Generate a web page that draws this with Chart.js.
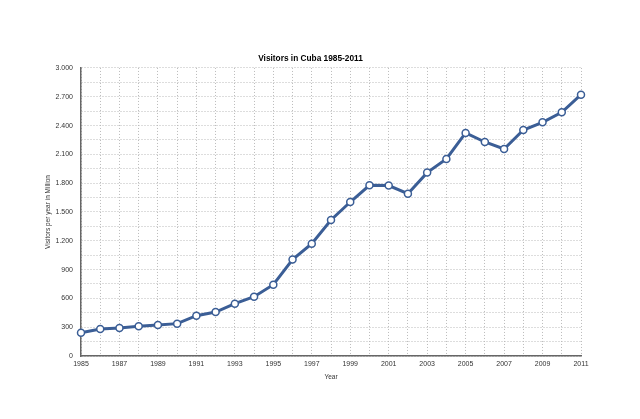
<!DOCTYPE html>
<html>
<head>
<meta charset="utf-8">
<script src="https://cdn.jsdelivr.net/npm/chart.js@4/dist/chart.umd.min.js"></script>
<style>
html,body{margin:0;padding:0;background:#fff;}
#wrap{width:640px;height:419px;}
</style>
</head>
<body>
<div id="wrap"><canvas id="c" width="640" height="419"></canvas></div>
<script>
const years = ["1985","1986","1987","1988","1989","1990","1991","1992","1993","1994","1995","1996","1997","1998","1999","2000","2001","2002","2003","2004","2005","2006","2007","2008","2009","2010","2011"];
const visitors = [243,281,292,309,323,337,420,458,545,618,743,1004,1170,1417,1604,1778,1775,1691,1910,2052,2323,2229,2156,2354,2434,2538,2722];
const titleText = "Visitors in Cuba 1985-2011";
const yTitle = "Visitors per year in Million";
const xTitle = "Year";

function fmt(v){
  return String(v).replace(/\B(?=(\d{3})+(?!\d))/g, ".");
}

new Chart(document.getElementById('c'), {
  type: 'line',
  data: {
    labels: years,
    datasets: [{
      data: visitors,
      borderColor: '#3b5e96',
      borderWidth: 3,
      backgroundColor: '#ffffff',
      pointBackgroundColor: '#ffffff',
      pointBorderColor: '#3b5e96',
      pointBorderWidth: 1.5,
      pointRadius: 3.5,
      tension: 0,
      fill: false
    }]
  },
  options: {
    responsive: false,
    animation: false,
    devicePixelRatio: 1,
    layout: { padding: { left: 40, right: 59, top: 0, bottom: 30 } },
    plugins: {
      legend: { display: false },
      tooltip: { enabled: false },
      title: {
        display: true,
        text: titleText,
        color: '#000',
        font: { family: 'Liberation Sans', size: 8.3, weight: 'bold' },
        padding: { top: 54, bottom: 4 }
      }
    },
    scales: {
      x: {
        afterFit: s => { s.height = 33; },
        grid: { color: '#bbbbbb', lineWidth: 1, drawTicks: false },
        border: { display: true, color: '#666666', width: 1.5, dash: [1, 2] },
        ticks: {
          autoSkip: false, maxRotation: 0, minRotation: 0, padding: 4,
          color: '#333', font: { family: 'Liberation Sans', size: 7 },
          callback: function(v, i){ return i % 2 === 0 ? this.getLabelForValue(v) : ''; }
        },
        title: {
          display: true, text: xTitle, color: '#333',
          font: { family: 'Liberation Sans', size: 6.5 },
          padding: { top: 0, bottom: 8 }
        }
      },
      y: {
        min: 0, max: 3000,
        afterFit: s => { s.width = 41; },
        grid: { color: '#bbbbbb', lineWidth: 1, drawTicks: false },
        border: { display: true, color: '#666666', width: 1.5, dash: [1, 2] },
        ticks: {
          stepSize: 150, padding: 8, autoSkip: false,
          color: '#333', font: { family: 'Liberation Sans', size: 7 },
          callback: v => (v % 300 === 0 ? fmt(v) : '')
        },
        title: {
          display: true, text: yTitle, color: '#333',
          font: { family: 'Liberation Sans', size: 6.5 },
          padding: { top: 4, bottom: 0 }
        }
      }
    }
  }
});
</script>
</body>
</html>
